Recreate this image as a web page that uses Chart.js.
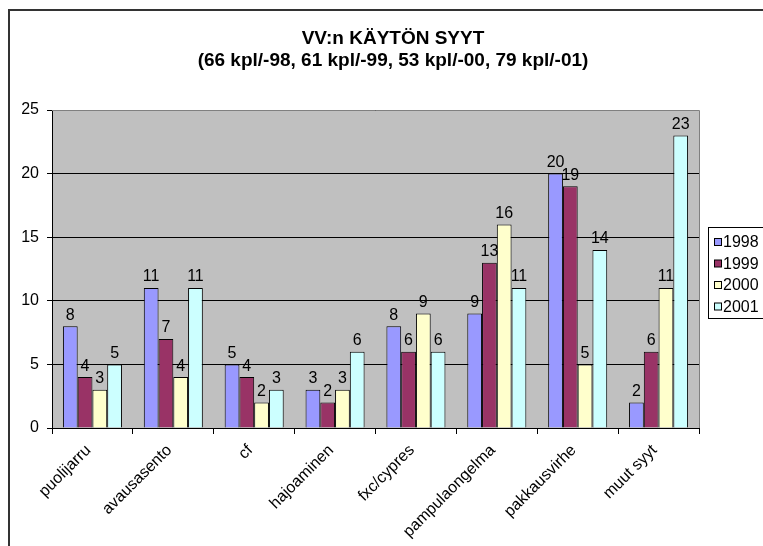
<!DOCTYPE html>
<html>
<head>
<meta charset="utf-8">
<script src="https://cdn.jsdelivr.net/npm/chart.js@4.4.0/dist/chart.umd.min.js"></script>
<style>
    html, body { margin: 0; padding: 0; background: #fff; overflow: hidden; }
    #chart { display: block; }
</style>
</head>
<body>
<canvas id="chart" width="763" height="546"></canvas>
<script>
// data
var categories = ['puolijarru', 'avausasento', 'cf', 'hajoaminen', 'fxc/cypres', 'pampulaongelma', 'pakkausvirhe', 'muut syyt'];
var years = ['1998', '1999', '2000', '2001'];
var values1998 = [8, 11, 5, 3, 8, 9, 20, 2];
var values1999 = [4, 7, 4, 2, 6, 13, 19, 6];
var values2000 = [3, 4, 2, 3, 9, 16, 5, 11];
var values2001 = [5, 11, 3, 6, 6, 11, 14, 23];
var yTickMax = 25;
var yTickStep = 5;
var titleLines = ['VV:n KÄYTÖN SYYT', '(66 kpl/-98, 61 kpl/-99, 53 kpl/-00, 79 kpl/-01)'];

var colors = ['#9999FF', '#993366', '#FFFFCC', '#CCFFFF'];
var FONT = "Arial, 'Liberation Sans', sans-serif";

var allValues = [values1998, values1999, values2000, values2001];
var datasets = years.map(function (year, i) {
    return {
        label: year,
        data: allValues[i],
        backgroundColor: colors[i],
        borderColor: '#000',
        borderWidth: 1,
        borderSkipped: 'bottom'
    };
});

var frame = {
    id: 'frame',
    beforeDraw: function (chart) {
        var ctx = chart.ctx, a = chart.chartArea;
        ctx.save();
        ctx.fillStyle = '#fff';
        ctx.fillRect(0, 0, chart.width, chart.height);
        // outer chart border, runs off the right and bottom edge
        ctx.strokeStyle = '#333';
        ctx.lineWidth = 2;
        ctx.strokeRect(9, 10, chart.width + 20, chart.height + 20);
        ctx.fillStyle = '#C0C0C0';
        ctx.fillRect(a.left, a.top, a.right - a.left, a.bottom - a.top);
        ctx.restore();
    },
    beforeDatasetsDraw: function (chart) {
        var ctx = chart.ctx, a = chart.chartArea;
        ctx.save();
        ctx.strokeStyle = '#808080';
        ctx.lineWidth = 1;
        ctx.beginPath();
        ctx.moveTo(a.left, a.top + 0.5);
        ctx.lineTo(a.right + 0.5, a.top + 0.5);
        ctx.lineTo(a.right + 0.5, a.bottom);
        ctx.stroke();
        ctx.restore();
    },
    afterDatasetsDraw: function (chart) {
        var ctx = chart.ctx;
        ctx.save();
        ctx.fillStyle = '#000';
        ctx.font = '16px ' + FONT;
        ctx.textAlign = 'center';
        ctx.textBaseline = 'bottom';
        chart.data.datasets.forEach(function (ds, i) {
            chart.getDatasetMeta(i).data.forEach(function (bar, j) {
                ctx.fillText(String(ds.data[j]), bar.x, bar.y - 3);
            });
        });
        ctx.restore();
    },
    afterDraw: function (chart) {
        var ctx = chart.ctx;
        ctx.save();
        // title
        ctx.fillStyle = '#000';
        ctx.font = 'bold 19px ' + FONT;
        ctx.textAlign = 'center';
        ctx.textBaseline = 'alphabetic';
        ctx.fillText(titleLines[0], 393, 44);
        ctx.fillText(titleLines[1], 393, 66);
        // legend, cut off by the right edge like the original
        var lx = 708, ly = 227, rowH = 21.5;
        ctx.fillStyle = '#fff';
        ctx.fillRect(lx, ly, 80, 91);
        ctx.strokeStyle = '#000';
        ctx.lineWidth = 1;
        ctx.strokeRect(lx + 0.5, ly + 0.5, 80, 91);
        ctx.font = '16px ' + FONT;
        ctx.textAlign = 'left';
        ctx.textBaseline = 'middle';
        chart.data.datasets.forEach(function (ds, i) {
            var cy = ly + 15 + i * rowH;
            ctx.fillStyle = ds.backgroundColor;
            ctx.fillRect(lx + 6.5, cy - 3.5, 7, 7);
            ctx.strokeStyle = '#000';
            ctx.strokeRect(lx + 6.5, cy - 3.5, 7, 7);
            ctx.fillStyle = '#000';
            ctx.fillText(ds.label, lx + 15, cy + 1);
        });
        ctx.restore();
    }
};

new Chart(document.getElementById('chart'), {
    type: 'bar',
    data: {labels: categories, datasets: datasets},
    plugins: [frame],
    options: {
        responsive: false,
        animation: false,
        layout: {padding: {top: 110, right: 64, left: 0, bottom: 0}},
        datasets: {bar: {categoryPercentage: 0.73, barPercentage: 1}},
        plugins: {legend: {display: false}, title: {display: false}, tooltip: {enabled: false}},
        scales: {
            x: {
                afterFit: function (scale) { scale.height = 118; },
                grid: {offset: true, drawOnChartArea: false, drawTicks: true, tickLength: 6, color: '#000'},
                border: {color: '#000'},
                ticks: {color: '#000', font: {family: FONT, size: 16}, minRotation: 45, maxRotation: 45, padding: 7, labelOffset: -4, autoSkip: false}
            },
            y: {
                min: 0,
                max: yTickMax,
                afterFit: function (scale) { scale.width = 52; },
                grid: {color: '#000', tickLength: 5},
                border: {color: '#000'},
                ticks: {stepSize: yTickStep, color: '#000', font: {family: FONT, size: 16}, padding: 8}
            }
        }
    }
});
</script>
</body>
</html>
